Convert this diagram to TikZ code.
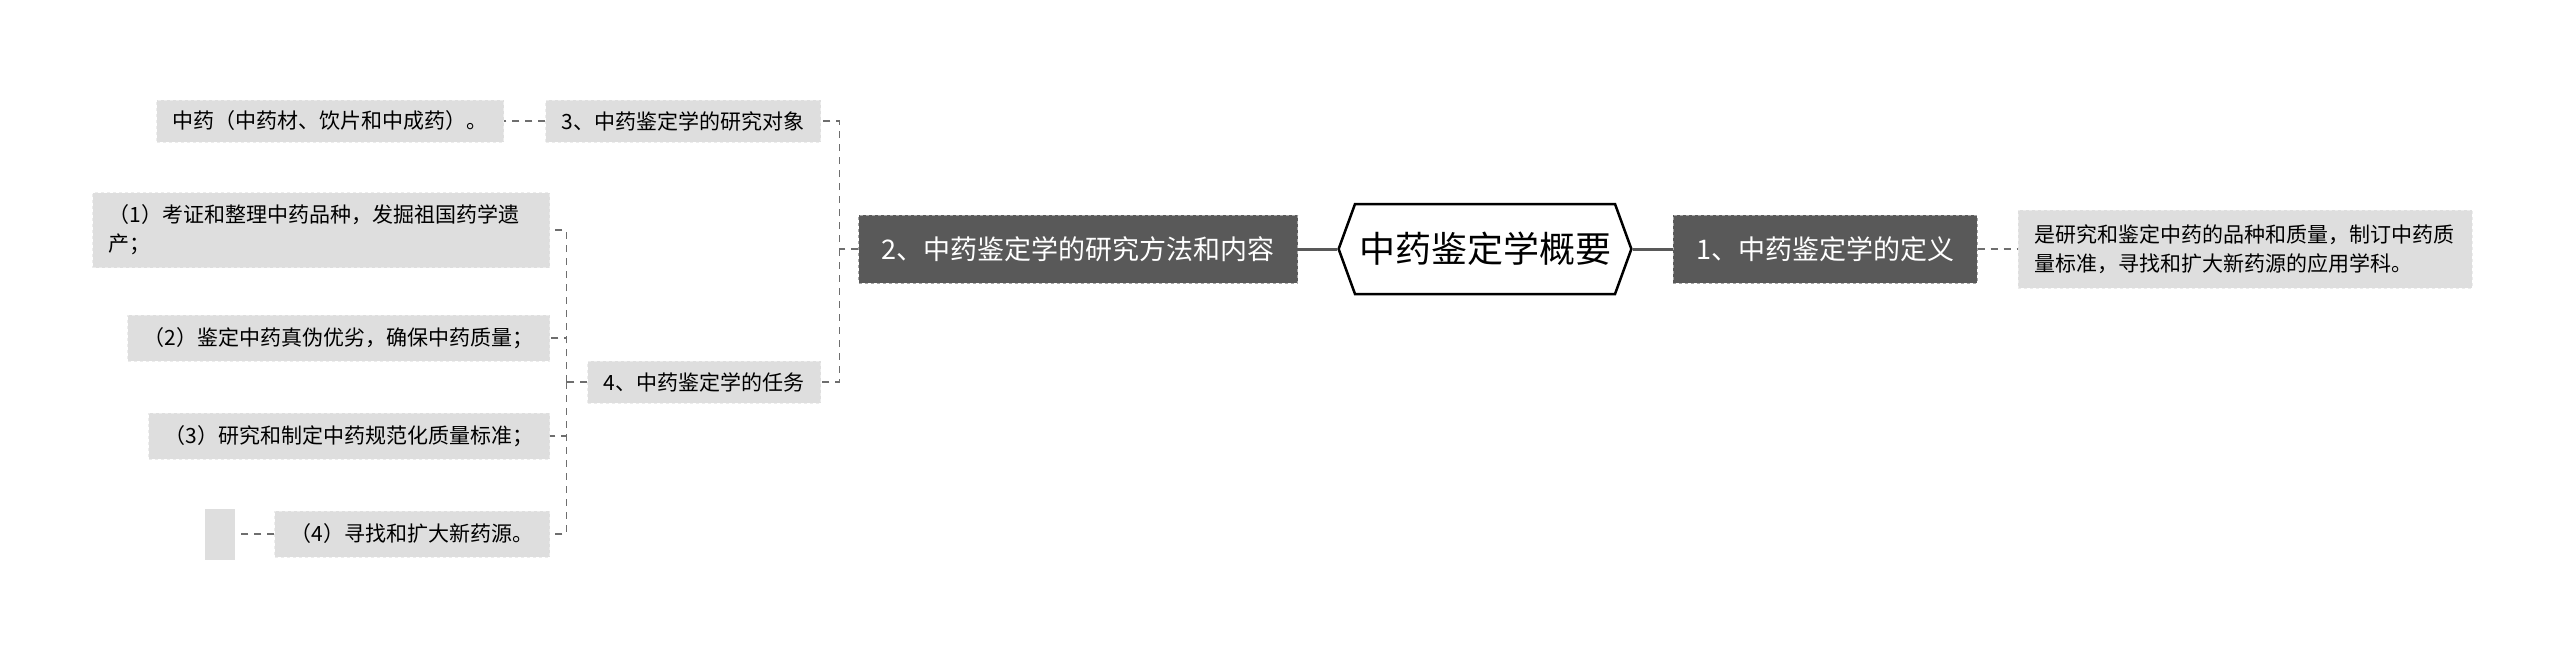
\documentclass[tikz,border=0pt]{standalone}
\usepackage{fontspec}
\setmainfont{Noto Sans CJK SC}
\usepackage{tikz}
\usetikzlibrary{positioning,shapes.symbols}

\definecolor{darkbox}{HTML}{595959}
\definecolor{lightbox}{HTML}{DEDEDE}
\definecolor{linkgray}{HTML}{6E6E6E}

\begin{document}
\begin{tikzpicture}[x=1pt,y=-1pt,
  hub/.style={shape=signal,signal to=west and east,signal pointer angle=140,
    draw=black,line width=2.5pt,fill=white,minimum height=90pt,inner xsep=4pt,
    font=\fontsize{36}{40}\selectfont},
  topic/.style={fill=darkbox,draw=gray!70,dashed,line width=1pt,text=white,
    minimum height=68pt,inner xsep=23pt,font=\fontsize{27}{32}\selectfont},
  sub/.style={fill=lightbox,draw=white!85!gray,dashed,line width=1pt,
    minimum height=42pt,inner xsep=16pt,font=\fontsize{21}{29}\selectfont},
  leaf/.style={sub,minimum height=46pt,align=left},
  blank/.style={fill=lightbox,minimum width=30pt,minimum height=51pt},
  trunk/.style={draw=darkbox,line width=3pt},
  link/.style={draw=linkgray,line width=1.6pt,dash pattern=on 7pt off 6pt}]
  \useasboundingbox (0,0) rectangle (2560,649);

  \node[hub]                          (hub)    at (1485,249) {中药鉴定学概要};
  \node[topic, left=39pt of hub]      (method) {2、中药鉴定学的研究方法和内容};
  \node[topic, right=40pt of hub]     (defn)   {1、中药鉴定学的定义};
  \node[leaf, right=40pt of defn, text width=422pt, minimum height=78pt] (defntext)
    {是研究和鉴定中药的品种和质量，制订中药质\\量标准，寻找和扩大新药源的应用学科。};

  \node[sub, anchor=east]             (object) at (821,121) {3、中药鉴定学的研究对象};
  \node[sub, left=41pt of object]     (drug)   {中药（中药材、饮片和中成药）。};
  \node[sub, anchor=east]             (task)   at (821,382) {4、中药鉴定学的任务};

  \node[leaf, anchor=east, text width=425pt, minimum height=75pt] (t1) at (550,230)
    {（1）考证和整理中药品种，发掘祖国药学遗\\产；};
  \node[leaf, anchor=east]            (t2)     at (550,338) {（2）鉴定中药真伪优劣，确保中药质量；};
  \node[leaf, anchor=east]            (t3)     at (550,436) {（3）研究和制定中药规范化质量标准；};
  \node[leaf, anchor=east]            (t4)     at (550,534) {（4）寻找和扩大新药源。};
  \node[blank, left=39pt of t4]       (empty)  {};

  % main branches
  \draw[trunk] (hub.west) -- (method.east);
  \draw[trunk] (hub.east) -- (defn.west);
  \draw[link] (defn.east) -- (defntext.west);

  % left side
  \coordinate (fork) at ([xshift=-19pt]method.west);
  \draw[link] (method.west) -- (fork) |- (object.east);
  \draw[link] (fork) |- (task.east);
  \draw[link] (object.west) -- (drug.east);

  \coordinate (taskfork) at ([xshift=-21pt]task.west);
  \draw[link] (task.west) -- (taskfork);
  \foreach \t in {t1,t2,t3,t4}
    \draw[link] (taskfork) |- (\t.east);
  \draw[link] (t4.west) -- (empty.east);
\end{tikzpicture}
\end{document}
